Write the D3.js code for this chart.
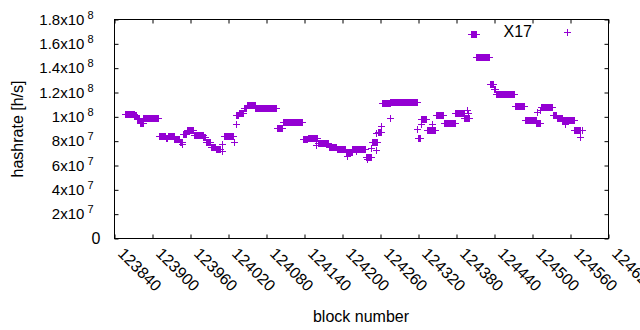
<!DOCTYPE html>
<html>
<head>
<meta charset="utf-8">
<script src="https://cdn.jsdelivr.net/npm/d3@7"></script>
<style>
  body { margin: 0; background: #fff; }
  text { font-family: "Liberation Sans", Arial, sans-serif; }
</style>
</head>
<body>
<script>
// hashrate runs: first block, last block, hashrate in 1e6 h/s
var runStart = [123858, 123872, 123876, 123881, 123886, 123911, 123922, 123925, 123935, 123944,
  123949, 123955, 123966, 123981, 123985, 123993, 124001, 124013, 124033, 124037,
  124045, 124050, 124063, 124097, 124107, 124138, 124146, 124162, 124167, 124179,
  124192, 124206, 124216, 124238, 124247, 124257, 124263, 124276, 124320, 124324,
  124334, 124348, 124361, 124379, 124393, 124403, 124412, 124433, 124440, 124443,
  124473, 124489, 124507, 124514, 124533, 124539, 124548, 124567];
var runEnd = [123871, 123875, 123880, 123885, 123910, 123921, 123924, 123934, 123943, 123948,
  123954, 123965, 123980, 123984, 123992, 124000, 124008, 124028, 124036, 124044,
  124049, 124062, 124096, 124106, 124137, 124145, 124161, 124166, 124178, 124191,
  124205, 124215, 124237, 124246, 124256, 124262, 124275, 124319, 124323, 124333,
  124347, 124360, 124378, 124392, 124400, 124411, 124432, 124439, 124442, 124472,
  124487, 124506, 124513, 124532, 124538, 124547, 124566, 124576];
var runValue = [101.9, 100.7, 97.8, 94.9, 98.6, 83.8, 81.8, 83.8, 81.4, 79.3,
  85.1, 88.4, 84.7, 83.4, 78.9, 75.2, 72.8, 83.8, 100.7, 103.1,
  107.2, 109.7, 107.2, 90.8, 95.7, 81.4, 82.6, 77.7, 78.1, 75.2,
  72.8, 70.3, 73.2, 66.2, 78.5, 87.5, 110.9, 112.1, 82.6, 97.4,
  88.4, 101.5, 94.9, 103.1, 99.0, 167.7, 149.1, 126.9, 122.8, 118.7,
  108.3, 96.6, 94.9, 108.0, 101.5, 98.6, 97.0, 88.8];

// single scattered blocks
var oddBlock = [123948, 124011, 124011, 124030, 124032, 124159, 124208, 124222, 124240, 124245,
  124254, 124254, 124262, 124275, 124319, 124325, 124342, 124398, 124399, 124508,
  124513, 124552, 124576, 124579];
var oddValue = [76.9, 76.9, 71.1, 79.3, 94.1, 76.1, 67.0, 71.1, 64.6, 73.6,
  72.0, 86.6, 91.7, 99.0, 89.2, 94.1, 93.3, 105.6, 103.1, 103.9,
  105.6, 94.0, 83.4, 88.4];

var xTicks = [123840, 123900, 123960, 124020, 124080, 124140, 124200, 124260,
  124320, 124380, 124440, 124500, 124560, 124620];
var yTicks = [0, 2e7, 4e7, 6e7, 8e7, 1e8, 1.2e8, 1.4e8, 1.6e8, 1.8e8];
var seriesName = "X17";

var width = 640, height = 330;
var color = "#9400d3";

var svg = d3.select("body").append("svg")
  .attr("width", width)
  .attr("height", height);

var x = d3.scaleLinear().domain([123840, 124620]).range([114.5, 608.5]);
var y = d3.scaleLinear().domain([0, 1.8e8]).range([238.5, 19.5]);

//one point per block
var points = [];
runStart.forEach(function(s, i) {
  for (var b = s; b <= runEnd[i]; b++) points.push({ b: b, v: runValue[i] * 1e6 });
});
oddBlock.forEach(function(b, i) {
  points.push({ b: b, v: oddValue[i] * 1e6 });
});

var plus = "M-3.5,0H3.5M0,-3.5V3.5";

//axes (ticks point inward, mirrored on top and right)
var xAxis = svg.append("g")
  .attr("transform", "translate(0,238.5)")
  .call(d3.axisBottom(x).tickValues(xTicks).tickFormat(d3.format("d"))
    .tickSizeInner(-4).tickSizeOuter(0).tickPadding(0));

svg.append("g")
  .attr("transform", "translate(0,19.5)")
  .call(d3.axisTop(x).tickValues(xTicks).tickSizeInner(-4).tickSizeOuter(0).tickFormat(""));

var yAxis = svg.append("g")
  .attr("transform", "translate(114.5,0)")
  .call(d3.axisLeft(y).tickValues(yTicks).tickSizeInner(-4).tickSizeOuter(0).tickPadding(14));

svg.append("g")
  .attr("transform", "translate(608.5,0)")
  .call(d3.axisRight(y).tickValues(yTicks).tickSizeInner(-4).tickSizeOuter(0).tickFormat(""));

svg.selectAll(".domain").remove();
svg.selectAll(".tick line").attr("stroke", "#000");
svg.selectAll(".tick text").attr("fill", "#000").attr("font-size", 16)
  .attr("font-family", "'Liberation Sans', Arial, sans-serif");

xAxis.selectAll("text")
  .attr("y", 0).attr("dy", null)
  .attr("text-anchor", "start")
  .attr("transform", "translate(2,16) rotate(45)");

//y labels in gnuplot style: 1.2x10^8
yAxis.selectAll(".tick text").each(function(d) {
  var t = d3.select(this).text("");
  if (d === 0) { t.text("0"); return; }
  var e = Math.floor(Math.log10(d) + 1e-9);
  var m = +(d / Math.pow(10, e)).toFixed(1);
  t.attr("x", -21).attr("font-size", 15);
  t.append("tspan").text(m + "x10");
  t.append("tspan").attr("dx", 3).attr("dy", -6).attr("font-size", 11).text(e);
});

//frame
svg.append("rect")
  .attr("x", 114.5).attr("y", 19.5)
  .attr("width", 494).attr("height", 219)
  .attr("fill", "none").attr("stroke", "#000");

//points
svg.append("g").selectAll("path")
  .data(points)
  .enter()
  .append("path")
  .attr("d", plus)
  .attr("transform", function(d) { return "translate(" + x(d.b) + "," + y(d.v) + ")"; })
  .attr("stroke", color)
  .attr("stroke-width", 1)
  .attr("fill", "none")
  .attr("shape-rendering", "crispEdges");

//key
svg.append("text")
  .attr("x", 532).attr("y", 37)
  .attr("text-anchor", "end")
  .attr("font-size", 16)
  .text(seriesName);
svg.append("path")
  .attr("d", plus)
  .attr("transform", "translate(567,32)")
  .attr("stroke", color)
  .attr("fill", "none")
  .attr("shape-rendering", "crispEdges");

//axis titles
svg.append("text")
  .attr("x", 361).attr("y", 322)
  .attr("text-anchor", "middle")
  .attr("font-size", 16)
  .text("block number");
svg.append("text")
  .attr("transform", "translate(23,129) rotate(-90)")
  .attr("text-anchor", "middle")
  .attr("font-size", 16)
  .text("hashrate [h/s]");
</script>
</body>
</html>
